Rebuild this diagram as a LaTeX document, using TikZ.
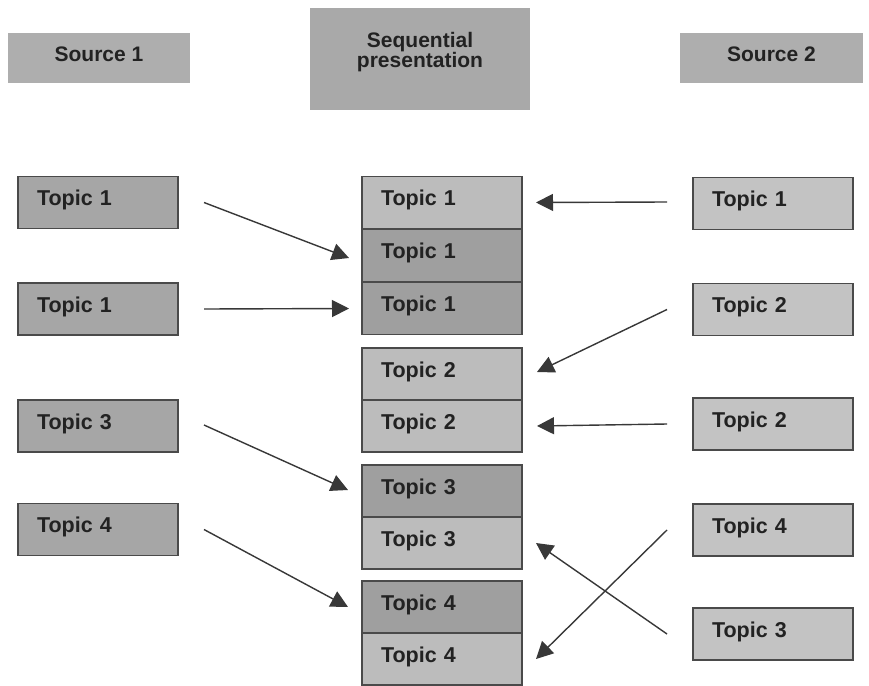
\documentclass[tikz,border=0pt]{standalone}
\usepackage{fontspec}
\setmainfont{Liberation Sans}
\usetikzlibrary{arrows.meta}
\definecolor{leftgray}{HTML}{A6A6A6}
\definecolor{rightgray}{HTML}{C3C3C3}
\definecolor{midlight}{HTML}{BCBCBC}
\definecolor{middark}{HTML}{9F9F9F}
\definecolor{hdrgray}{HTML}{AEAEAE}
\definecolor{seqgray}{HTML}{A9A9A9}
\definecolor{edgegray}{HTML}{4A4A4A}
\definecolor{txt}{HTML}{222222}
\definecolor{arrgray}{HTML}{383838}
\tikzset{
  topic/.style={draw=edgegray, line width=1.3pt, minimum width=160pt, minimum height=52pt,
    inner xsep=19pt, inner ysep=0pt, outer sep=0pt, text width=122pt, align=left,
    text height=15.5pt, text depth=9.5pt, text=txt,
    font=\fontsize{21.5}{24}\selectfont\bfseries},
  lt/.style={topic, fill=leftgray},
  rt/.style={topic, fill=rightgray},
  ml/.style={topic, fill=midlight},
  md/.style={topic, fill=middark},
  hdr/.style={fill=hdrgray, draw=none, inner sep=0pt, outer sep=0pt},
  hdrtext/.style={text=txt, align=center, inner sep=0pt,
    font=\fontsize{21}{20.5}\selectfont\bfseries},
  arr/.style={draw=arrgray, line width=1.4pt, -{Triangle[length=17pt,width=17pt]}}
}
\begin{document}
\begin{tikzpicture}[x=1pt,y=-1pt]
\useasboundingbox[fill=white] (0,0) rectangle (869,685);
% headers
\node[hdr, minimum width=182pt, minimum height=50pt] (s1) at (99,58) {};
\node[hdr, fill=seqgray, minimum width=220pt, minimum height=102pt] (seq) at (420,59) {};
\node[hdr, minimum width=183pt, minimum height=50pt] (s2) at (771.5,58) {};
\node[hdrtext] (s1t) at ([yshift=4pt]s1.center) {Source 1};
\node[hdrtext] (seqt) at ([yshift=7pt]seq.center) {Sequential\\presentation};
\node[hdrtext] (s2t) at ([yshift=4pt]s2.center) {Source 2};
% left column
\node[lt] (L1) at (98,202.5) {Topic 1};
\node[lt] (L2) at (98,309) {Topic 1};
\node[lt] (L3) at (98,426) {Topic 3};
\node[lt] (L4) at (98,529.5) {Topic 4};
% middle column
\node[ml] (M1) at (442,202.5) {Topic 1};
\node[md] (M2) at (442,255.5) {Topic 1};
\node[md] (M3) at (442,308.5) {Topic 1};
\node[ml] (M4) at (442,374) {Topic 2};
\node[ml] (M5) at (442,426) {Topic 2};
\node[md] (M6) at (442,491) {Topic 3};
\node[ml] (M7) at (442,543) {Topic 3};
\node[md] (M8) at (442,607) {Topic 4};
\node[ml] (M9) at (442,659) {Topic 4};
% right column
\node[rt] (R1) at (773,203.5) {Topic 1};
\node[rt] (R2) at (773,309.5) {Topic 2};
\node[rt] (R3) at (773,424) {Topic 2};
\node[rt] (R4) at (773,530) {Topic 4};
\node[rt] (R5) at (773,634) {Topic 3};
% arrows from source 1
\draw[arr] ([xshift=26pt]L1.east) -- ([xshift=-13pt,yshift=-2.5pt]M2.west);
\draw[arr] ([xshift=26pt]L2.east) -- ([xshift=-13pt]M3.west);
\draw[arr] ([xshift=26pt,yshift=1pt]L3.east) -- ([xshift=-14pt,yshift=1pt]M6.west);
\draw[arr] ([xshift=26pt]L4.east) -- ([xshift=-14pt]M8.west);
% arrows from source 2
\draw[arr] ([xshift=-26pt,yshift=1.5pt]R1.west) -- ([xshift=14pt]M1.east);
\draw[arr] ([xshift=-26pt]R2.west) -- ([xshift=15pt,yshift=2pt]M4.east);
\draw[arr] ([xshift=-26pt]R3.west) -- ([xshift=15pt]M5.east);
\draw[arr] ([xshift=-26pt]R4.west) -- ([xshift=14pt]M9.east);
\draw[arr] ([xshift=-26pt]R5.west) -- ([xshift=14pt]M7.east);
\end{tikzpicture}
\end{document}
